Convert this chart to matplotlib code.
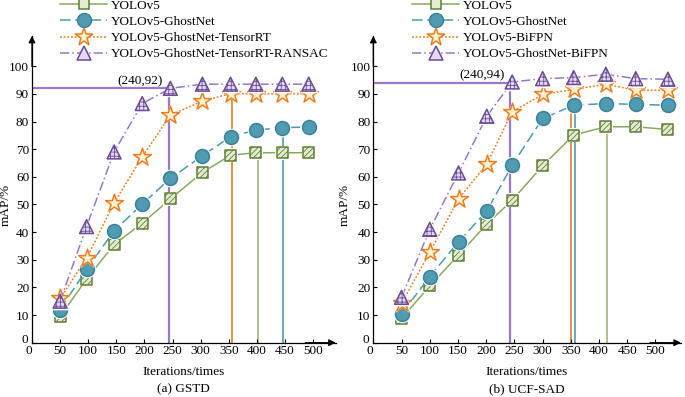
import matplotlib
matplotlib.use("Agg")
import matplotlib.pyplot as plt
from matplotlib.lines import Line2D
from matplotlib.transforms import ScaledTranslation

plt.rcParams['font.family'] = ['Liberation Serif', 'DejaVu Serif']
plt.rcParams['hatch.linewidth'] = 0.6

##------DATA------------------------------------------------------------
iters_a = [50, 97, 146, 196, 246, 303, 353, 398, 445, 492]
yolo_a = [9.5, 23, 35.5, 43.2, 52, 61.6, 67.8, 68.7, 68.7, 68.7]
ghost_a = [12, 26.5, 40.5, 50.1, 59.4, 67.6, 74.5, 76.9, 77.8, 78]
trt_a = [16, 30.5, 50.6, 67.2, 82.3, 87.4, 90.1, 90, 90, 90]
ransac_a = [15, 42, 69, 86.5, 92, 93.5, 93.5, 93.5, 93.5, 93.5]
# converged points (x, y) marked by vertical lines
conv_a = {'ransac': (244, 92), 'trt': (355, 90), 'yolo': (401, 68.7), 'ghost': (446, 78)}

iters_b = [50, 100, 151, 201, 246, 300, 355, 412, 465, 522]
yolo_b = [8.8, 20.5, 31.7, 42.9, 51.5, 64, 75.1, 78.1, 78.1, 77.1]
ghost_b = [10.4, 23.9, 36.5, 47.6, 64.2, 81.1, 85.9, 86.5, 86.2, 85.9]
bifpn_b = [14.2, 32.7, 52, 64.6, 83.5, 89.8, 91.6, 93.5, 91.3, 91.3]
gbifpn_b = [16.4, 41, 61.4, 81.9, 94.3, 95.5, 95.9, 97.1, 95.5, 95.3]
conv_b = {'ransac': (241.5, 94), 'trt': (351, 91.6), 'ghost': (357, 86), 'yolo': (414, 78.1)}

##------STYLES----------------------------------------------------------
styles = {
    'yolo': dict(color='#8aaa5a', ls='-', marker='s', ms=62, face='#e4edd2', edge='#5f7d35', hatch='//////'),
    'ghost': dict(color='#4a9bb0', ls=(0, (7, 3)), marker='o', ms=100, face='#4f9bb2', edge='#3b8299', hatch=None),
    'trt': dict(color='#f07c1e', ls=(0, (1.2, 1.2)), marker='*', ms=180, face='#fff2cf', edge='#f07c1e', hatch=None),
    'ransac': dict(color='#9479c8', ls=(0, (6, 2, 1, 2)), marker='^', ms=100, face='#e4d8f5', edge='#6a4c93', hatch='++++'),
}
vcolors = {'ransac': '#9a78d0', 'trt': '#f07c1e', 'yolo': '#9dbb70', 'ghost': '#4a9bb0'}


def draw_panel(fig, ax, xs, series, conv, names, note, caption, xmax, leg_x, ylab_x):
    # vertical / horizontal guide lines
    for key, (cx, cy) in conv.items():
        lw = 1.6 if key == 'ransac' else 1.2
        ax.plot([cx, cx], [0, cy], color=vcolors[key], lw=lw, zorder=1)
    rx, ry = conv['ransac']
    ax.plot([0, rx], [ry, ry], color=vcolors['ransac'], lw=1.6, zorder=1)

    handles = []
    for z, (key, ys) in enumerate(series):
        st = styles[key]
        ax.plot(xs, ys, color=st['color'], ls=st['ls'], lw=1.1, zorder=2 + z * 3)
        ax.scatter(xs, ys, s=st['ms'] * 1.6, marker=st['marker'], color='white', lw=0, zorder=3 + z * 3)
        ax.scatter(xs, ys, s=st['ms'], marker=st['marker'], facecolor=st['face'], edgecolor=st['edge'],
                   hatch=st['hatch'], lw=1.1, zorder=4 + z * 3, clip_on=False)
        handles.append(Line2D([], [], color=st['color'], ls=st['ls'], lw=1.1, marker=st['marker'],
                              markersize=(st['ms'] ** 0.5), markerfacecolor=st['face'],
                              markeredgecolor=st['edge'], markeredgewidth=1.1))

    ax.text(232, note[1], note[0], ha='right', va='bottom', fontsize=9.5)

    ax.set_xlim(0, xmax)
    ax.set_ylim(0, 111)
    ax.set_xticks(range(0, 501, 50))
    ax.set_yticks(range(0, 101, 10))
    ax.tick_params(direction='in', length=3, width=0.8, labelsize=9.5, pad=2)
    for lab in ax.get_xticklabels():
        if lab.get_text() == '0':
            lab.set_horizontalalignment('right')
    ylab0 = ax.get_yticklabels()[0]
    ylab0.set_transform(ylab0.get_transform() + ScaledTranslation(-1 / 72, 3 / 72, fig.dpi_scale_trans))
    for s in ['top', 'right']:
        ax.spines[s].set_visible(False)
    for s in ['left', 'bottom']:
        ax.spines[s].set_linewidth(0.9)
    ax.annotate('', xy=(1, 0), xytext=(0.9, 0), xycoords='axes fraction',
                arrowprops=dict(arrowstyle='-|>', color='black', lw=0.9, mutation_scale=10, shrinkA=0, shrinkB=0))
    ax.annotate('', xy=(0, 1), xytext=(0, 0.9), xycoords='axes fraction',
                arrowprops=dict(arrowstyle='-|>', color='black', lw=0.9, mutation_scale=10, shrinkA=0, shrinkB=0))

    ax.set_xlabel('Iterations/times', fontsize=9.5, labelpad=6)
    ax.set_ylabel('mAP/%', fontsize=9.5)
    ax.yaxis.set_label_coords(ylab_x, 0.45)
    ax.text(0.5, -0.153, caption, transform=ax.transAxes, ha='center', va='center', fontsize=9.5)

    ax.legend(handles, names, loc='lower left', bbox_to_anchor=(leg_x, 0.92), frameon=False,
              fontsize=9.5, handlelength=3.6, handletextpad=0.3, labelspacing=0.3, borderpad=0.0,
              borderaxespad=0.0)


fig = plt.figure(figsize=(6.85, 3.97), dpi=100)
ax1 = fig.add_axes([0.0467, 0.1368, 0.4434, 0.773])
ax2 = fig.add_axes([0.545, 0.1368, 0.449, 0.773])

draw_panel(fig, ax1, iters_a,
           [('yolo', yolo_a), ('ghost', ghost_a), ('trt', trt_a), ('ransac', ransac_a)],
           conv_a,
           ['YOLOv5', 'YOLOv5-GhostNet', 'YOLOv5-GhostNet-TensorRT', 'YOLOv5-GhostNet-TensorRT-RANSAC'],
           ('(240,92)', 92.5), '(a) GSTD', 540, 0.092, -0.066)
draw_panel(fig, ax2, iters_b,
           [('yolo', yolo_b), ('ghost', ghost_b), ('trt', bifpn_b), ('ransac', gbifpn_b)],
           conv_b,
           ['YOLOv5', 'YOLOv5-GhostNet', 'YOLOv5-BiFPN', 'YOLOv5-GhostNet-BiFPN'],
           ('(240,94)', 94.5), '(b) UCF-SAD', 545, 0.125, -0.072)

plt.savefig('out.png', dpi=100)
